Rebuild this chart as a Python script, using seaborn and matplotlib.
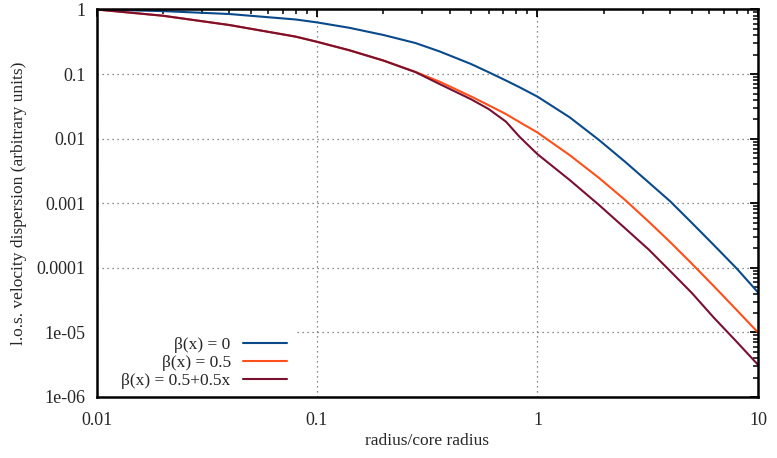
import pandas as pd
import matplotlib
matplotlib.use('Agg')
import matplotlib.pyplot as plt
from matplotlib.patches import Rectangle
import seaborn as sns

# valeurs (échelle log-log)
radius = [0.01, 0.02, 0.04, 0.08, 0.1, 0.14, 0.2, 0.28, 0.36, 0.5, 0.6, 0.72, 0.83,
          1.0, 1.4, 1.9, 2.5, 3.2, 4.0, 5.0, 6.3, 8.0, 10.0]
sigma_beta0 = [1.0, 0.944, 0.851, 0.700, 0.631, 0.521, 0.403, 0.302, 0.224, 0.143,
               0.107, 0.0794, 0.0624, 0.0447, 0.0214, 0.00955, 0.00437, 0.00209,
               0.00107, 0.000501, 0.000226, 9.8e-5, 4.17e-5]
sigma_beta05 = [1.0, 0.800, 0.575, 0.380, 0.316, 0.234, 0.162, 0.108, 0.0762, 0.0450,
                0.033, 0.0240, 0.0180, 0.01245, 0.00556, 0.00247, 0.00112, 0.000516,
                0.00025, 0.000117, 5.22e-5, 2.23e-5, 1.0e-5]
sigma_beta_var = [1.0, 0.800, 0.575, 0.380, 0.316, 0.234, 0.162, 0.107, 0.070, 0.0407,
                  0.0288, 0.0183, 0.01064, 0.00575, 0.00229, 0.000942, 0.000408,
                  0.000191, 8.9e-5, 4.12e-5, 1.70e-5, 7.18e-6, 3.16e-6]
labels = ['β(x) = 0', 'β(x) = 0.5', 'β(x) = 0.5+0.5x']
colors = ['#0a4a8a', '#ff4f1a', '#7a1030']

df = pd.concat([
    pd.DataFrame({'radius': radius, 'sigma': s, 'modele': lab})
    for s, lab in zip([sigma_beta0, sigma_beta05, sigma_beta_var], labels)
])

sns.set_style('white')
plt.rcParams['font.family'] = ['Liberation Serif', 'DejaVu Sans']

fig = plt.figure(figsize=(7.77, 4.58), dpi=100)
ax = fig.add_axes([0.1242, 0.1332, 0.8513, 0.8461])

sns.lineplot(data=df, x='radius', y='sigma', hue='modele', palette=colors,
             linewidth=1.5, sort=False, ax=ax)

ax.set_xscale('log')
ax.set_yscale('log')
ax.set_xlim(0.01, 10)
ax.set_ylim(1e-6, 1)

xt = [0.01, 0.1, 1, 10]
ax.set_xticks(xt, ['0.01', '0.1', '1', '10'])
yt = [1e-6, 1e-5, 1e-4, 1e-3, 1e-2, 1e-1, 1]
ax.set_yticks(yt, ['1e-06', '1e-05', '0.0001', '0.001', '0.01', '0.1', '1'])

ax.tick_params(which='both', direction='in', top=True, right=True, labelsize=13,
               color='black')
ax.tick_params(axis='x', pad=11)
ax.tick_params(axis='y', pad=8)
ax.tick_params(which='major', length=6, width=1.3)
ax.tick_params(which='minor', length=3.5, width=1.1)
for sp in ax.spines.values():
    sp.set_linewidth(1.8)
    sp.set_color('black')

ax.grid(True, which='major', color='0.4', linestyle=(0, (1, 3)), linewidth=0.9)
ax.set_axisbelow(True)

# fond blanc de la légende (cache la grille comme gnuplot)
ax.add_patch(Rectangle((0, 0), 0.302, 0.19, transform=ax.transAxes,
                       facecolor='white', edgecolor='none', zorder=1))

ax.set_xlabel('radius/core radius', fontsize=12.5, labelpad=3)
ax.set_ylabel('l.o.s. velocity dispersion (arbitrary units)', fontsize=12.5, labelpad=7)

handles, labs = ax.get_legend_handles_labels()
leg = ax.legend(handles, labs, loc='lower right', bbox_to_anchor=(0.30, 0.0),
                markerfirst=False, frameon=True, fancybox=False, framealpha=1,
                facecolor='white', edgecolor='white', fontsize=12.5,
                handlelength=2.55, handletextpad=0.7, labelspacing=0.12,
                borderpad=0.25, borderaxespad=0.2)
leg.get_frame().set_linewidth(0)

fig.savefig('out.png', dpi=100)
